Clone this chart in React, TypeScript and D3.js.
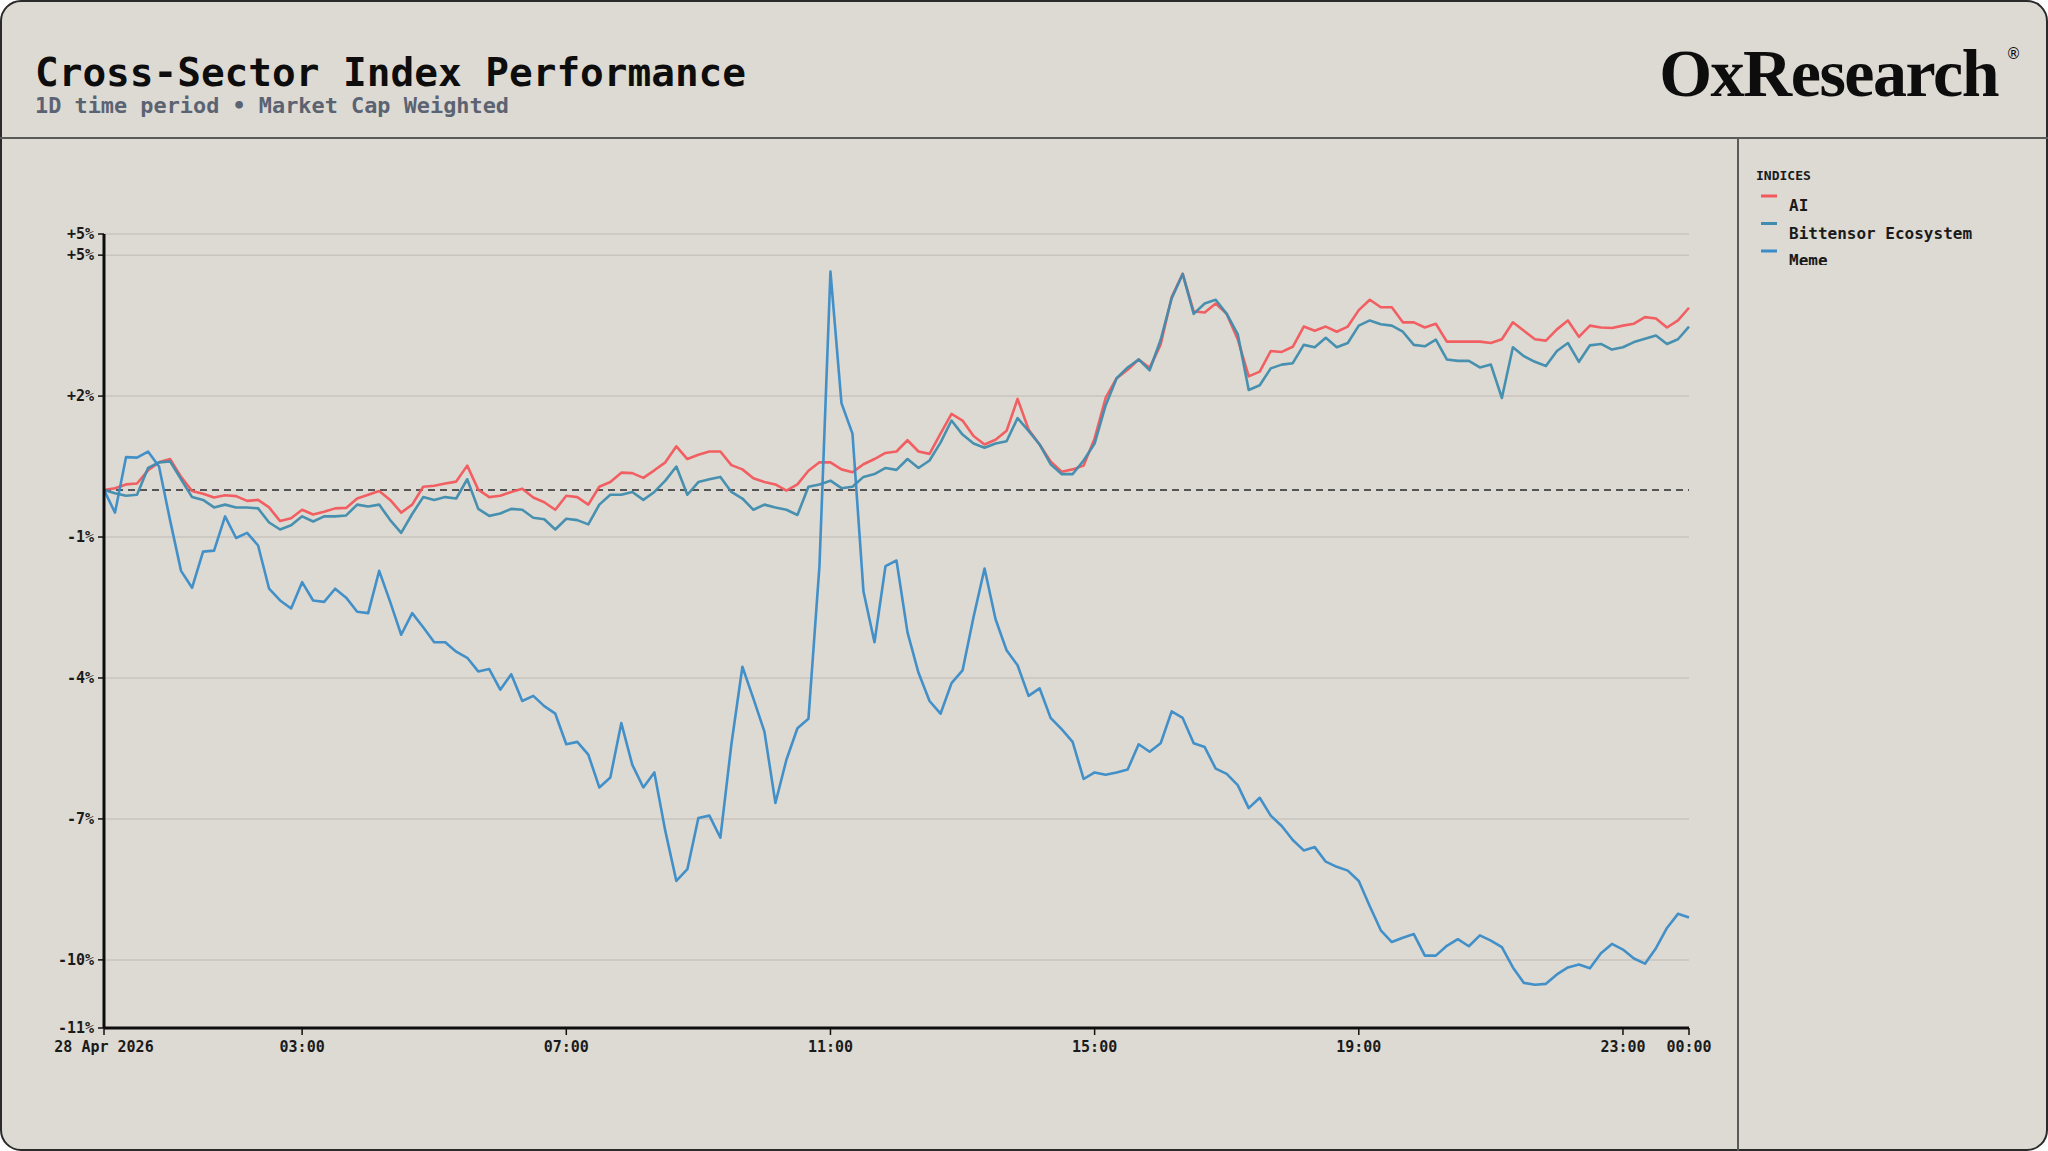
import * as d3 from 'd3';

const WIDTH = 2048;
const HEIGHT = 1151;
// plot area inside the card
const MARGIN = { top: 234, right: 359, bottom: 123, left: 104 };

const MONO = "'DejaVu Sans Mono', 'Liberation Mono', monospace";

// one value every 10 minutes, 00:00 -> 24:00
const STEP_MINUTES = 10;
const X_TICK_HOURS = [0, 3, 7, 11, 15, 19, 23, 24];
const X_TICK_LABELS = ['28 Apr 2026', '03:00', '07:00', '11:00', '15:00', '19:00', '23:00', '00:00'];
const Y_DOMAIN = [-11.45, 5.45];
const Y_TICKS = [-11.45, -10, -7, -4, -1, 2, 5, 5.45];

const AI = [
  0, 0.04, 0.12, 0.14, 0.42, 0.59, 0.66, 0.28, -0.02, -0.08, -0.16, -0.11,
  -0.13, -0.23, -0.21, -0.37, -0.66, -0.6, -0.42, -0.52, -0.46, -0.39, -0.38, -0.18,
  -0.1, -0.02, -0.21, -0.48, -0.31, 0.07, 0.09, 0.14, 0.18, 0.52, 0.01, -0.15,
  -0.12, -0.04, 0.03, -0.16, -0.26, -0.42, -0.12, -0.15, -0.31, 0.07, 0.17, 0.37,
  0.36, 0.26, 0.42, 0.59, 0.93, 0.66, 0.75, 0.82, 0.82, 0.53, 0.44, 0.25,
  0.17, 0.12, -0.01, 0.12, 0.41, 0.59, 0.59, 0.44, 0.38, 0.55, 0.66, 0.79,
  0.82, 1.06, 0.82, 0.77, 1.2, 1.62, 1.48, 1.15, 0.97, 1.07, 1.26, 1.94,
  1.29, 0.97, 0.61, 0.39, 0.44, 0.52, 1.1, 1.96, 2.38, 2.56, 2.78, 2.6,
  3.1, 4.11, 4.6, 3.8, 3.78, 3.97, 3.75, 3.21, 2.42, 2.52, 2.96, 2.94,
  3.05, 3.48, 3.39, 3.48, 3.37, 3.48, 3.83, 4.05, 3.89, 3.89, 3.57, 3.57,
  3.46, 3.54, 3.16, 3.16, 3.16, 3.16, 3.13, 3.21, 3.57, 3.39, 3.21, 3.18,
  3.42, 3.61, 3.26, 3.5, 3.46, 3.45, 3.5, 3.54, 3.68, 3.65, 3.46, 3.61,
  3.88,
];

const BITTENSOR = [
  0, -0.07, -0.12, -0.1, 0.47, 0.59, 0.61, 0.23, -0.15, -0.21, -0.37, -0.31,
  -0.37, -0.37, -0.39, -0.69, -0.84, -0.75, -0.56, -0.67, -0.56, -0.56, -0.54, -0.31,
  -0.35, -0.31, -0.64, -0.91, -0.51, -0.15, -0.21, -0.15, -0.18, 0.23, -0.4, -0.55,
  -0.5, -0.4, -0.42, -0.59, -0.62, -0.84, -0.61, -0.64, -0.73, -0.31, -0.1, -0.1,
  -0.04, -0.21, -0.04, 0.2, 0.5, -0.1, 0.17, 0.23, 0.28, -0.04, -0.18, -0.42,
  -0.31, -0.37, -0.42, -0.53, 0.07, 0.12, 0.2, 0.04, 0.07, 0.28, 0.34, 0.47,
  0.43, 0.66, 0.47, 0.63, 1.01, 1.48, 1.18, 0.99, 0.9, 0.99, 1.04, 1.53,
  1.26, 0.97, 0.55, 0.34, 0.34, 0.63, 0.99, 1.8, 2.38, 2.61, 2.78, 2.55,
  3.2, 4.08, 4.6, 3.75, 3.97, 4.05, 3.75, 3.32, 2.13, 2.23, 2.59, 2.67,
  2.7, 3.09, 3.04, 3.24, 3.04, 3.13, 3.5, 3.61, 3.53, 3.5, 3.37, 3.09,
  3.06, 3.2, 2.78, 2.75, 2.75, 2.61, 2.67, 1.96, 3.04, 2.85, 2.73, 2.64,
  2.96, 3.13, 2.73, 3.08, 3.11, 2.99, 3.04, 3.15, 3.22, 3.29, 3.11, 3.21,
  3.48,
];

const MEME = [
  0, -0.48, 0.7, 0.69, 0.82, 0.5, -0.64, -1.72, -2.08, -1.31, -1.29, -0.56,
  -1.02, -0.91, -1.18, -2.1, -2.35, -2.52, -1.96, -2.35, -2.38, -2.1, -2.29, -2.59,
  -2.62, -1.72, -2.38, -3.08, -2.62, -2.92, -3.24, -3.24, -3.44, -3.57, -3.86, -3.81,
  -4.25, -3.92, -4.49, -4.38, -4.6, -4.76, -5.41, -5.36, -5.63, -6.33, -6.12, -4.96,
  -5.85, -6.33, -6.01, -7.26, -8.32, -8.07, -6.98, -6.93, -7.4, -5.41, -3.76, -4.44,
  -5.14, -6.66, -5.74, -5.07, -4.87, -1.62, 4.65, 1.85, 1.2, -2.16, -3.24, -1.62,
  -1.5, -3.03, -3.89, -4.49, -4.76, -4.11, -3.84, -2.7, -1.67, -2.75, -3.41, -3.73,
  -4.38, -4.22, -4.85, -5.09, -5.36, -6.15, -6.01, -6.06, -6.01, -5.95, -5.41, -5.57,
  -5.39, -4.71, -4.85, -5.39, -5.47, -5.93, -6.04, -6.28, -6.77, -6.55, -6.93, -7.15,
  -7.45, -7.67, -7.6, -7.91, -8.02, -8.1, -8.32, -8.86, -9.37, -9.62, -9.53, -9.45,
  -9.91, -9.91, -9.7, -9.56, -9.71, -9.48, -9.59, -9.73, -10.16, -10.49, -10.53, -10.51,
  -10.31, -10.16, -10.1, -10.18, -9.86, -9.66, -9.78, -9.97, -10.08, -9.75, -9.32, -9.02,
  -9.1,
];

const SERIES = [
  { name: 'AI', color: '#f2595c', values: AI },
  { name: 'Bittensor Ecosystem', color: '#3f8cae', values: BITTENSOR },
  { name: 'Meme', color: '#3a8cc8', values: MEME },
];

const formatPct = (v: number) => {
  const r = Math.round(v);
  return `${r > 0 ? '+' : ''}${r}%`;
};

const App = () => {
  const boundsWidth = WIDTH - MARGIN.left - MARGIN.right;
  const boundsHeight = HEIGHT - MARGIN.top - MARGIN.bottom;

  const xScale = d3.scaleLinear().domain([0, 24 * 60]).range([0, boundsWidth]);
  const yScale = d3.scaleLinear().domain(Y_DOMAIN).range([boundsHeight, 0]);

  const line = d3
    .line<number>()
    .x((_, i) => xScale(i * STEP_MINUTES))
    .y((d) => yScale(d));

  const grid = Y_TICKS.map((v, i) => (
    <g key={i} transform={`translate(0,${yScale(v)})`}>
      <line x1={0} x2={boundsWidth} stroke="#c9c5be" strokeWidth={1.5} />
      <line x1={-6} x2={0} stroke="#111" strokeWidth={1.5} />
      <text
        x={-10}
        dy="0.35em"
        textAnchor="end"
        fontFamily={MONO}
        fontSize={15}
        fontWeight={600}
        fill="#1a1a1a"
      >
        {formatPct(v)}
      </text>
    </g>
  ));

  const xTicks = X_TICK_HOURS.map((h, i) => (
    <g key={i} transform={`translate(${xScale(h * 60)},${boundsHeight})`}>
      <line y1={0} y2={7} stroke="#111" strokeWidth={1.5} />
      <text
        y={24}
        textAnchor="middle"
        fontFamily={MONO}
        fontSize={15}
        fontWeight={600}
        fill="#1a1a1a"
      >
        {X_TICK_LABELS[i]}
      </text>
    </g>
  ));

  return (
    <svg
      width={WIDTH}
      height={HEIGHT}
      style={{ position: 'absolute', left: 0, top: 0, display: 'block' }}
    >
      <defs>
        <clipPath id="legend-clip">
          <rect x={1740} y={140} width={300} height={125} />
        </clipPath>
      </defs>
      <rect width={WIDTH} height={HEIGHT} fill="#ffffff" />
      <rect x={1} y={1} width={WIDTH - 2} height={HEIGHT - 2} rx={20} fill="#dddad3" stroke="#2a2a2a" strokeWidth={2} />

      {/* header */}
      <text
        x={35}
        y={86}
        fontFamily={MONO}
        fontSize={39}
        fontWeight={700}
        textLength={711}
        lengthAdjust="spacingAndGlyphs"
        fill="#0d0d0d"
      >
        Cross-Sector Index Performance
      </text>
      <text
        x={35}
        y={113}
        fontFamily={MONO}
        fontSize={21}
        fontWeight={700}
        textLength={474}
        lengthAdjust="spacingAndGlyphs"
        fill="#5b6372"
      >
        1D time period • Market Cap Weighted
      </text>
      {/* logo: wordmark with registered mark as one text */}
      <text
        x={1998}
        y={96}
        textAnchor="end"
        fontFamily="'Liberation Serif', 'DejaVu Serif', serif"
        fontSize={68}
        fontWeight={700}
        letterSpacing={-1.5}
        fill="#0d0d0d"
      >
        OxResearch
      </text>
      <text x={2006} y={59} fontFamily="'DejaVu Sans', sans-serif" fontSize={15} fill="#0d0d0d">
        ®
      </text>
      <line x1={0} x2={WIDTH} y1={138} y2={138} stroke="#5a5a5a" strokeWidth={2} />
      <line x1={1738} x2={1738} y1={138} y2={HEIGHT} stroke="#5a5a5a" strokeWidth={2} />

      {/* legend */}
      <g clipPath="url(#legend-clip)">
        <text x={1756} y={180} fontFamily={MONO} fontSize={13} fontWeight={600} fill="#1a1a1a">
          INDICES
        </text>
        {SERIES.map((s, i) => (
          <g key={s.name} transform={`translate(0,${i * 27.5})`}>
            <line x1={1761} x2={1777} y1={196} y2={196} stroke={s.color} strokeWidth={3} />
            <text x={1789} y={211} fontFamily={MONO} fontSize={16} fontWeight={600} fill="#1a1a1a">
              {s.name}
            </text>
          </g>
        ))}
      </g>

      <g transform={`translate(${MARGIN.left},${MARGIN.top})`}>
        {grid}
        <line
          x1={0}
          x2={boundsWidth}
          y1={yScale(0)}
          y2={yScale(0)}
          stroke="#555"
          strokeWidth={2}
          strokeDasharray="7 5"
        />
        {SERIES.map((s) => (
          <path
            key={s.name}
            d={line(s.values) ?? ''}
            fill="none"
            stroke={s.color}
            strokeWidth={2.6}
            strokeLinejoin="round"
            opacity={0.95}
          />
        ))}
        {/* axes */}
        <line x1={0} x2={0} y1={0} y2={boundsHeight} stroke="#0d0d0d" strokeWidth={3} />
        <line x1={0} x2={boundsWidth} y1={boundsHeight} y2={boundsHeight} stroke="#0d0d0d" strokeWidth={3} />
        {xTicks}
      </g>
    </svg>
  );
};

export default App;
